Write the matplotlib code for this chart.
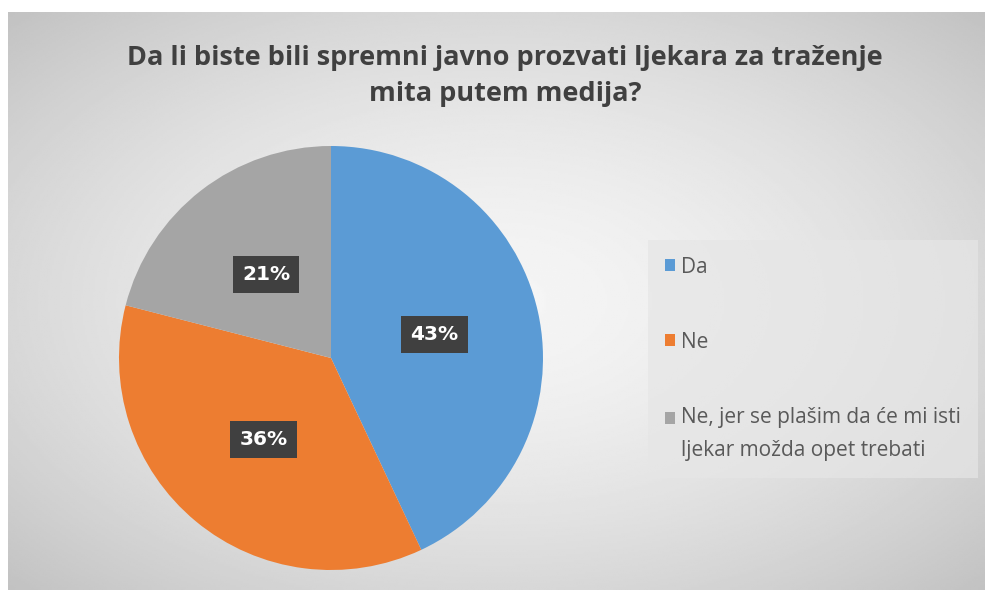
import numpy as np
import matplotlib
matplotlib.use("Agg")
import matplotlib.pyplot as plt

title = "Da li biste bili spremni javno prozvati ljekara za traženje\nmita putem medija?"
categories = ["Da", "Ne", "Ne, jer se plašim da će mi isti\nljekar možda opet trebati"]
values = [43, 36, 21]
colors = ["#5b9bd5", "#ed7d31", "#a5a5a5"]

W, H = 989, 596
fig = plt.figure(figsize=(W / 100, H / 100), dpi=100, facecolor="white")

# background panel with radial gradient
fx0, fy0, fx1, fy1 = 8, 12, 985, 590
bg = fig.add_axes([fx0 / W, (H - fy1) / H, (fx1 - fx0) / W, (fy1 - fy0) / H])
yy, xx = np.mgrid[-1:1:300j, -1:1:500j]
r2 = (xx ** 2 + yy ** 2) / 2
img = 0.96 - 0.20 * r2 ** 0.8
bg.imshow(img, cmap="gray", vmin=0, vmax=1, aspect="auto", extent=[0, 1, 0, 1])
bg.set_axis_off()

# pie
cx, cy, R = 331, 358, 212
ax = fig.add_axes([(cx - R) / W, (H - cy - R) / H, 2 * R / W, 2 * R / H])
wedges, texts, autotexts = ax.pie(
    values, colors=colors, startangle=90, counterclock=False,
    autopct="%.0f%%", pctdistance=0.5, radius=1,
    wedgeprops=dict(linewidth=0),
    textprops=dict(color="white", fontsize=14.5, fontweight="bold", family="DejaVu Sans"),
)
for t in autotexts:
    t.set_bbox(dict(boxstyle="square,pad=0.45", facecolor="#404040", edgecolor="none"))
ax.set_xlim(-1, 1)
ax.set_ylim(-1, 1)
ax.set_axis_off()

fig.text(505 / W, 1 - 76 / H, title, ha="center", va="center", fontsize=19.5,
         fontweight="bold", color="#404040", family="Open Sans", linespacing=1.5)

leg = fig.legend(wedges, categories, loc="upper left",
                 bbox_to_anchor=(648 / W, 1 - 240 / H), borderaxespad=0,
                 prop=dict(family="Open Sans", size=15), labelcolor="#595959",
                 handlelength=0.5, handleheight=0.5, handletextpad=0.3,
                 labelspacing=2.6, frameon=True, fancybox=False,
                 borderpad=0.8, facecolor="#e6e6e6", edgecolor="none", framealpha=0.7)
for t in leg.get_texts():
    t.set_linespacing(1.75)

# align the last handle with the first line of its label
h3 = leg.legend_handles[2]
h3.set_y(h3.get_y() + 12)

fig.savefig("out.png", dpi=100, facecolor="white")
